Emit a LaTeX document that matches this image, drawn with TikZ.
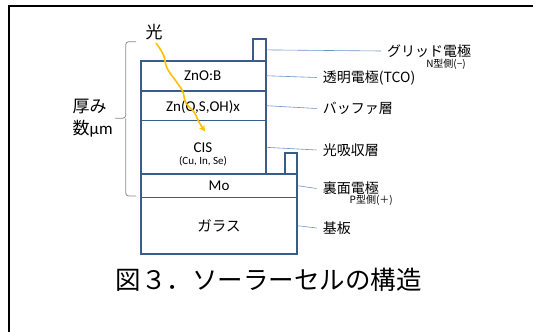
\documentclass[tikz,border=0pt]{standalone}
\usepackage{fontspec}
\setmainfont{Carlito}
\newfontfamily\jp{Noto Sans CJK JP}
\usetikzlibrary{arrows.meta}
\definecolor{stackblue}{HTML}{385D8A}
\definecolor{leadblue}{HTML}{6F93C4}
\definecolor{bracegray}{HTML}{8A8A8A}
\definecolor{lightorange}{HTML}{FFC000}
\begin{document}
\begin{tikzpicture}[x=1pt,y=-1pt,
  layer/.style={draw=stackblue, line width=1.5pt, fill=white, inner sep=0pt, anchor=north west, align=center},
  lead/.style={draw=leadblue, line width=0.6pt},
  lbl/.style={anchor=west, inner xsep=6pt, inner ysep=0pt, font=\jp\fontsize{14}{16}\selectfont},
  sublbl/.style={anchor=east, inner sep=0pt, font=\jp\fontsize{10}{11}\selectfont},
  lat/.style={font=\fontsize{15}{17}\selectfont, inner sep=0pt}
]
\useasboundingbox (0,0) rectangle (533,332);
\draw[line width=2.3pt] (9.2,332) -- (9.2,6.2) -- (533,6.2);

% layers
\node[layer, minimum width=156pt, minimum height=56.6pt] (glass) at (140.3,196.7) {\jp\fontsize{14.5}{16}\selectfont ガラス};
\node[layer, minimum width=156pt, minimum height=23.4pt] (mo) at (140.3,173.3) {\fontsize{15}{17}\selectfont Mo};
\node[layer, minimum width=124.7pt, minimum height=53.4pt] (cis) at (140.3,119.9) {};
\node[lat] (cist) at (203,147.7) {CIS};
\node[inner sep=0pt, font=\fontsize{11}{12}\selectfont] (cisel) at (203,161.7) {(Cu, In, Se)};
\node[layer, minimum width=124.7pt, minimum height=29.9pt] (buf) at (140.3,90) {};
\node[lat] (buft) at (203,107) {Zn(O,S,OH)x};
\node[layer, minimum width=124.7pt, minimum height=30pt] (zno) at (140.3,60) {};
\node[lat] (znot) at (202.7,76) {ZnO:B};
\node[layer, minimum width=12.7pt, minimum height=21.7pt] (grid) at (252.3,38.3) {};
\node[layer, minimum width=12pt, minimum height=21pt] (back) at (284.3,152.3) {};

% labels
\node[lbl] (lgrid) at (381,51) {グリッド電極};
\node[sublbl] (ngrid) at (466,64) {N型側(−)};
\node[lbl] (ltco) at (316.7,77.5) {透明電極(TCO)};
\node[lbl] (lbuf) at (316.7,108.5) {バッファ層};
\node[lbl] (labs) at (316.7,150) {光吸収層};
\node[lbl] (lback) at (316.7,188.5) {裏面電極};
\node[sublbl] (pback) at (393,200) {P型側(＋)};
\node[lbl] (lsub) at (316.7,228) {基板};

\draw[lead] (grid.east) -- (lgrid.west);
\draw[lead] (zno.east) -- (ltco.west);
\draw[lead] (buf.east) -- (lbuf.west);
\draw[lead] (cis.east) -- (labs.west);
\draw[lead] (mo.east) -- (lback.west);
\draw[lead] (glass.east) -- (lsub.west);

% brace and thickness label
\draw[bracegray, line width=0.8pt, rounded corners=3pt] (136,41.7) -| (125.7,118.3) -- (115,118.3);
\draw[bracegray, line width=0.8pt, rounded corners=3pt] (136,196) -| (125.7,118.3);
\node[anchor=west, align=left, inner sep=0pt, font=\jp\fontsize{17}{22}\selectfont] (thick) at (72.5,118) {厚み\\数{\fontspec{Carlito}μm}};

% light
\node[inner sep=0pt, font=\jp\fontsize{17}{19}\selectfont] (light) at (154,32) {光};
\coordinate (ls) at (156,43);
\coordinate (le) at (205,131.5);
\draw[lightorange, line width=1.6pt, -{Stealth[length=6pt,width=6pt]}] plot[smooth, tension=0.7] coordinates {(ls) (163.5,55) (167,68) (175.5,80.5) (182.5,91) (186,103) (194,112) (199,122) (le)};

% title
\node[inner sep=0pt, font=\jp\fontsize{25.5}{28}\selectfont] (title) at (268.5,280) {図３．ソーラーセルの構造};
\end{tikzpicture}
\end{document}
